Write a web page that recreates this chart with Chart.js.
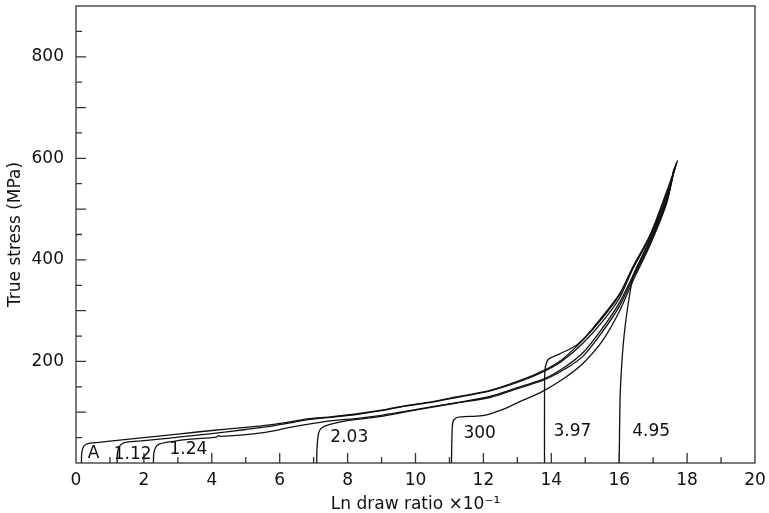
<!DOCTYPE html>
<html><head><meta charset="utf-8">
<script src="https://cdn.jsdelivr.net/npm/chart.js@4/dist/chart.umd.min.js"></script>
<style>html,body{margin:0;padding:0;background:#fff}#wrap{width:769px;height:513px;position:relative}</style>
</head><body><div id="wrap"><canvas id="c"></canvas></div>
<script>
// ---- data ----
const xTickLabels = [0,2,4,6,8,10,12,14,16,18,20];
const yTickLabels = [200,400,600,800];

const curveA_x   = [0.16,0.17,0.22,0.30,0.42,1.0,2.0,3.0,4.0,5.0,5.7,6.3,6.8,7.5,8.3,9.0,9.7,10.5,11.2,12.2,13.1,13.8,14.3,14.9,15.5,16.0,16.4,16.9,17.4,17.72];
const curveA_y   = [0,20,32,37,39,43,50,57,64,70,75,81,87,91,97,104,113,121,130,143,163,183,203,240,285,330,386,448,535,596];

const curve112_x = [1.21,1.22,1.27,1.38,1.5,2.0,2.77,3.0,4.0,5.0,5.7,6.3,6.8,7.5,8.3,9.0,9.7,10.5,11.2,12.2,13.1,13.8,14.3,14.9,15.5,16.0,16.4,16.9,17.4,17.7];
const curve112_y = [0,20,32,39,41,44,49,51,58,66,72,79,85,90,96,103,112,120,129,142,161,181,200,234,278,324,382,445,530,592];

const curve124_x = [2.28,2.29,2.34,2.45,2.7,3.0,3.36,4.0,4.15,4.2,4.25,4.84,5.62,6.3,6.9,7.48,7.8,8.3,9.0,9.74,10.5,11.21,12.19,13.07,13.8,14.4,14.93,15.5,16.0,16.4,16.9,17.4,17.65];
const curve124_y = [0,18,30,37,41,44,47,50,51.5,54,52.5,55,61,70,77,83,85,88,94,102,111,119,131,150,166,189,217,265,315,368,436,518,584];

const curve203_x = [7.09,7.10,7.15,7.25,7.48,7.8,8.3,9.0,9.74,10.5,11.21,12.19,13.07,13.8,14.4,14.93,15.5,16.0,16.4,16.9,17.4,17.62];
const curve203_y = [0,30,60,70,76,81,86,92,101,110,118,129,148,164,185,210,258,308,364,432,515,580];

const curve300_x = [11.06,11.07,11.1,11.2,11.35,11.8,12.1,12.48,12.8,13.07,13.5,13.8,14.4,14.93,15.5,16.0,16.4,16.9,17.4,17.6];
const curve300_y = [0,40,80,89,91,92.5,95,103,112,121,133,143,168,196,240,298,358,428,512,576];

const curve397_x = [13.80,13.80,13.81,13.86,13.95,14.25,14.74,15.03,15.5,16.0,16.4,16.9,17.4,17.68];
const curve397_y = [0,120,180,198,206,215,232,250,288,332,384,446,528,590];

const curve495_x = [16.0,16.01,16.03,16.08,16.16,16.28,16.40,16.45,16.9,17.4,17.66];
const curve495_y = [0,60,137,200,261,320,366,376,440,522,586];

const labelTexts = ['A','1.12','1.24','2.03','300','3.97','4.95'];
const labelX     = [0.52,1.67,3.31,8.05,11.89,14.62,16.94];
const labelY     = [18.5,17,25.6,49.6,57,61,61];

// ---- build ----
const FONT = 'DejaVu Sans';
const INK = '#111';
function pts(xs, ys){ return xs.map((x,i)=>({x:x, y:ys[i]})); }
const curves = [
  pts(curveA_x,curveA_y), pts(curve112_x,curve112_y), pts(curve124_x,curve124_y),
  pts(curve203_x,curve203_y), pts(curve300_x,curve300_y), pts(curve397_x,curve397_y),
  pts(curve495_x,curve495_y)
];

const framePlugin = {
  id:'frame',
  afterDraw(chart){
    const {ctx, chartArea:a, scales:{x,y}} = chart;
    ctx.save();
    ctx.strokeStyle = '#333';
    ctx.lineWidth = 1.3;
    ctx.beginPath();
    for(let v=1; v<20; v++){
      const px = x.getPixelForValue(v);
      const len = (v%2===0)?10:6;
      ctx.moveTo(px, a.bottom); ctx.lineTo(px, a.bottom-len);
    }
    for(let v=50; v<900; v+=50){
      const py = y.getPixelForValue(v);
      const len = (v%100===0)?10:6;
      ctx.moveTo(a.left, py); ctx.lineTo(a.left+len, py);
    }
    ctx.stroke();
    ctx.strokeRect(a.left, a.top, a.right-a.left, a.bottom-a.top);
    ctx.fillStyle = INK;
    ctx.font = '17px "'+FONT+'"';
    ctx.textAlign = 'center';
    ctx.textBaseline = 'middle';
    labelTexts.forEach((t,i)=>{
      ctx.fillText(t, x.getPixelForValue(labelX[i]), y.getPixelForValue(labelY[i]));
    });
    ctx.restore();
  }
};

new Chart(document.getElementById('c'), {
  type:'line',
  data:{
    datasets: curves.map((d,i)=>({
      label: labelTexts[i],
      data: d,
      borderColor: INK,
      borderWidth: 1.3,
      pointRadius: 0,
      tension: 0.3,
      fill: false
    }))
  },
  options:{
    responsive:true,
    maintainAspectRatio:false,
    animation:false,
    layout:{padding:{left:0,top:6,right:14,bottom:0}},
    plugins:{legend:{display:false}, tooltip:{enabled:false}},
    scales:{
      x:{
        type:'linear', min:0, max:20,
        afterFit(s){ s.height = 50; s.paddingLeft = 0; s.paddingRight = 0; },
        grid:{display:false, drawTicks:false},
        border:{display:false},
        ticks:{
          stepSize:2, padding:7, color:INK,
          font:{family:FONT, size:17},
          maxRotation:0,
          callback:(v)=> xTickLabels.includes(v) ? String(v) : ''
        },
        title:{display:true, text:'Ln draw ratio \u00d710\u207b\u00b9', color:INK,
               font:{family:FONT, size:17}, padding:{top:0,bottom:-2}}
      },
      y:{
        type:'linear', min:0, max:900,
        afterFit(s){ s.width = 76; s.paddingTop = 0; s.paddingBottom = 0; },
        grid:{display:false, drawTicks:false},
        border:{display:false},
        ticks:{
          stepSize:200, padding:12, color:INK,
          font:{family:FONT, size:17},
          callback:(v)=> yTickLabels.includes(v) ? String(v) : ''
        },
        title:{display:true, text:'True stress (MPa)', color:INK,
               font:{family:FONT, size:17}, padding:{top:5,bottom:0}}
      }
    }
  },
  plugins:[framePlugin]
});
</script>
</body></html>
